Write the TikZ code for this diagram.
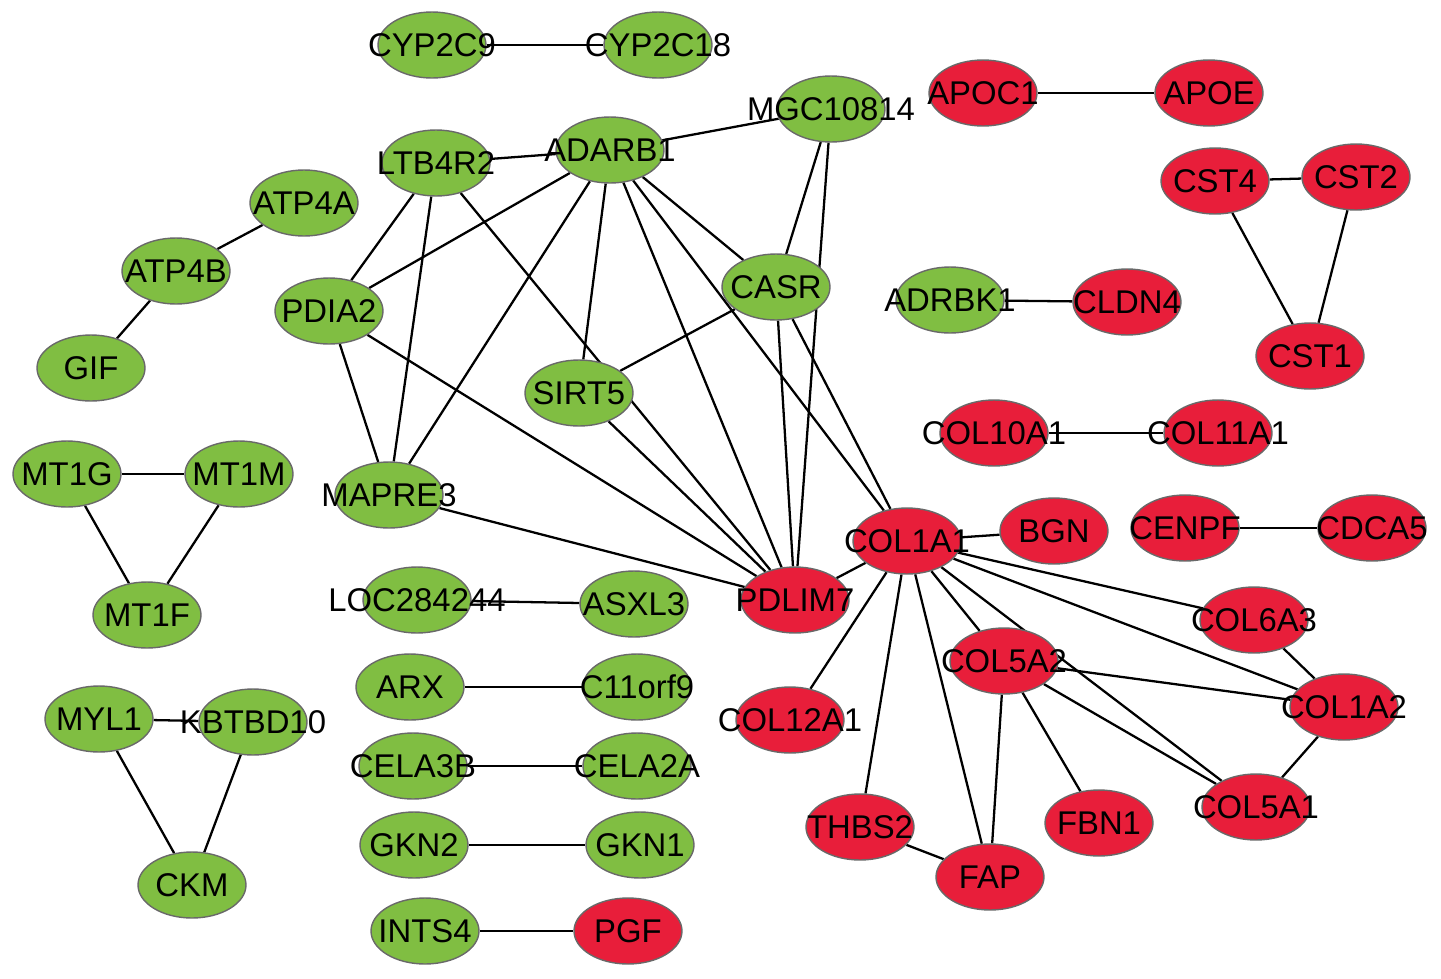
\documentclass[tikz,border=0pt]{standalone}
\usepackage{fontspec}
\setmainfont{Liberation Sans}
\usetikzlibrary{shapes.geometric,backgrounds}
\definecolor{leaf}{RGB}{128,190,66}
\definecolor{crimson}{RGB}{232,30,58}
\definecolor{rim}{RGB}{105,105,105}

\begin{document}
\begin{tikzpicture}[x=0.02cm,y=-0.02cm,
  gene/.style={ellipse, draw=rim, line width=0.8pt, minimum width=2.16cm, minimum height=1.32cm, inner sep=0pt},
  downgene/.style={gene, fill=leaf},
  upgene/.style={gene, fill=crimson},
  link/.style={line width=1.3pt},
  every label/.style={font=\fontsize{18.7}{22}\selectfont, inner sep=0pt}]
\useasboundingbox (0,0) rectangle (1441,978);

% down-regulated genes
\node[downgene, label=center:CYP2C9] (cyp2c9) at (432,45) {};
\node[downgene, label=center:CYP2C18] (cyp2c18) at (658,45) {};
\node[downgene, label=center:MGC10814] (mgc) at (831,109) {};
\node[downgene, label=center:ADARB1] (adarb1) at (610,150) {};
\node[downgene, label=center:LTB4R2] (ltb4r2) at (436,163) {};
\node[downgene, label=center:ATP4A] (atp4a) at (304,203) {};
\node[downgene, label=center:ATP4B] (atp4b) at (176,271) {};
\node[downgene, label=center:GIF] (gif) at (91,368) {};
\node[downgene, label=center:CASR] (casr) at (776,287) {};
\node[downgene, label=center:ADRBK1] (adrbk1) at (950,300) {};
\node[downgene, label=center:PDIA2] (pdia2) at (329,311) {};
\node[downgene, label=center:SIRT5] (sirt5) at (579,393) {};
\node[downgene, label=center:MT1G] (mt1g) at (67,474) {};
\node[downgene, label=center:MT1M] (mt1m) at (239,474) {};
\node[downgene, label=center:MT1F] (mt1f) at (147,615) {};
\node[downgene, label=center:MAPRE3] (mapre3) at (389,495) {};
\node[downgene, label=center:LOC284244] (loc) at (417,600) {};
\node[downgene, label=center:ASXL3] (asxl3) at (634,604) {};
\node[downgene, label=center:ARX] (arx) at (410,687) {};
\node[downgene, label=center:C11orf9] (c11orf9) at (637,687) {};
\node[downgene, label=center:MYL1] (myl1) at (99,719) {};
\node[downgene, label=center:KBTBD10] (kbtbd10) at (253,722) {};
\node[downgene, label=center:CKM] (ckm) at (192,885) {};
\node[downgene, label=center:CELA3B] (cela3b) at (413,766) {};
\node[downgene, label=center:CELA2A] (cela2a) at (637,766) {};
\node[downgene, label=center:GKN2] (gkn2) at (414,845) {};
\node[downgene, label=center:GKN1] (gkn1) at (640,845) {};
\node[downgene, label=center:INTS4] (ints4) at (425,931) {};

% up-regulated genes
\node[upgene, label=center:APOC1] (apoc1) at (983,93) {};
\node[upgene, label=center:APOE] (apoe) at (1209,93) {};
\node[upgene, label=center:CST4] (cst4) at (1215,181) {};
\node[upgene, label=center:CST2] (cst2) at (1356,177) {};
\node[upgene, label=center:CST1] (cst1) at (1310,356) {};
\node[upgene, label=center:CLDN4] (cldn4) at (1127,302) {};
\node[upgene, label=center:COL10A1] (col10a1) at (994,433) {};
\node[upgene, label=center:COL11A1] (col11a1) at (1218,433) {};
\node[upgene, label=center:COL1A1] (col1a1) at (907,541) {};
\node[upgene, label=center:BGN] (bgn) at (1054,531) {};
\node[upgene, label=center:CENPF] (cenpf) at (1185,528) {};
\node[upgene, label=center:CDCA5] (cdca5) at (1372,528) {};
\node[upgene, label=center:PDLIM7] (pdlim7) at (795,600) {};
\node[upgene, label=center:COL6A3] (col6a3) at (1254,620) {};
\node[upgene, label=center:COL5A2] (col5a2) at (1004,661) {};
\node[upgene, label=center:COL12A1] (col12a1) at (790,720) {};
\node[upgene, label=center:COL1A2] (col1a2) at (1344,707) {};
\node[upgene, label=center:THBS2] (thbs2) at (860,827) {};
\node[upgene, label=center:FBN1] (fbn1) at (1099,823) {};
\node[upgene, label=center:COL5A1] (col5a1) at (1256,807) {};
\node[upgene, label=center:FAP] (fap) at (990,877) {};
\node[upgene, label=center:PGF] (pgf) at (628,931) {};

\begin{pgfonlayer}{background}
% small groups
\draw[link] (cyp2c9) -- (cyp2c18);
\draw[link] (apoc1) -- (apoe);
\draw[link] (cst4) -- (cst2);
\draw[link] (cst4) -- (cst1);
\draw[link] (cst2) -- (cst1);
\draw[link] (atp4a) -- (atp4b);
\draw[link] (atp4b) -- (gif);
\draw[link] (mt1g) -- (mt1m);
\draw[link] (mt1g) -- (mt1f);
\draw[link] (mt1m) -- (mt1f);
\draw[link] (myl1) -- (kbtbd10);
\draw[link] (myl1) -- (ckm);
\draw[link] (kbtbd10) -- (ckm);
\draw[link] (adrbk1) -- (cldn4);
\draw[link] (col10a1) -- (col11a1);
\draw[link] (cenpf) -- (cdca5);
\draw[link] (loc) -- (asxl3);
\draw[link] (arx) -- (c11orf9);
\draw[link] (cela3b) -- (cela2a);
\draw[link] (gkn2) -- (gkn1);
\draw[link] (ints4) -- (pgf);

% big cluster
\draw[link] (ltb4r2) -- (adarb1);
\draw[link] (adarb1) -- (mgc);
\draw[link] (ltb4r2) -- (pdia2);
\draw[link] (ltb4r2) -- (mapre3);
\draw[link] (ltb4r2) -- (pdlim7);
\draw[link] (adarb1) -- (pdia2);
\draw[link] (adarb1) -- (mapre3);
\draw[link] (adarb1) -- (sirt5);
\draw[link] (adarb1) -- (pdlim7);
\draw[link] (adarb1) -- (col1a1);
\draw[link] (adarb1) -- (casr);
\draw[link] (mgc) -- (casr);
\draw[link] (mgc) -- (pdlim7);
\draw[link] (casr) -- (sirt5);
\draw[link] (casr) -- (pdlim7);
\draw[link] (casr) -- (col1a1);
\draw[link] (pdia2) -- (mapre3);
\draw[link] (pdia2) -- (pdlim7);
\draw[link] (sirt5) -- (pdlim7);
\draw[link] (mapre3) -- (pdlim7);
\draw[link] (pdlim7) -- (col1a1);
\draw[link] (col1a1) -- (bgn);
\draw[link] (col1a1) -- (col6a3);
\draw[link] (col1a1) -- (col1a2);
\draw[link] (col1a1) -- (col5a2);
\draw[link] (col1a1) -- (col5a1);
\draw[link] (col1a1) -- (col12a1);
\draw[link] (col1a1) -- (thbs2);
\draw[link] (col1a1) -- (fap);
\draw[link] (col5a2) -- (col1a2);
\draw[link] (col5a2) -- (col5a1);
\draw[link] (col5a2) -- (fbn1);
\draw[link] (col5a2) -- (fap);
\draw[link] (thbs2) -- (fap);
\draw[link] (col6a3) -- (col1a2);
\draw[link] (col1a2) -- (col5a1);
\end{pgfonlayer}

\end{tikzpicture}
\end{document}
